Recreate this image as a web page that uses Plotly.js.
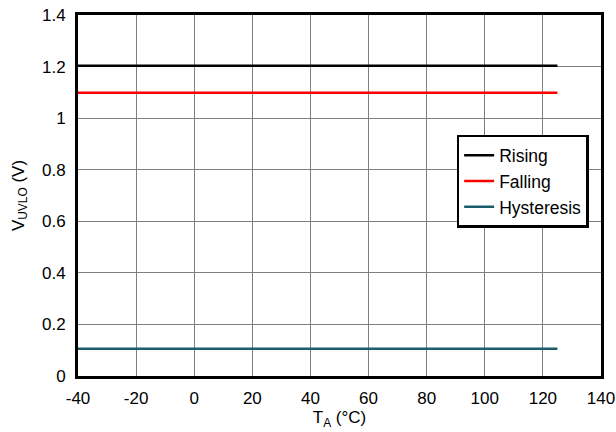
<!DOCTYPE html>
<html><head><meta charset="utf-8">
<script src="https://cdn.plot.ly/plotly-3.0.1.min.js"></script>
<style>body{margin:0;background:#fff}#c{width:616px;height:432px}</style>
</head><body><div id="c"></div>
<script>
const temps = [-40, -20, 0, 20, 40, 60, 80, 100, 125];
const rising = [1.203, 1.203, 1.203, 1.203, 1.203, 1.203, 1.203, 1.203, 1.203];
const falling = [1.098, 1.098, 1.097, 1.097, 1.097, 1.097, 1.097, 1.098, 1.098];
const hysteresis = [0.106, 0.106, 0.106, 0.106, 0.106, 0.106, 0.106, 0.106, 0.106];
const seriesNames = ['Rising', 'Falling', 'Hysteresis'];
const xTicks = [-40, -20, 0, 20, 40, 60, 80, 100, 120, 140];
const yTicks = [0, 0.2, 0.4, 0.6, 0.8, 1, 1.2, 1.4];

const colors = ['#000000', '#ff0000', '#1b5c6b'];
const data = [rising, falling, hysteresis].map((y, i) => ({
  x: temps, y: y, type: 'scatter', mode: 'lines', name: seriesNames[i],
  line: {color: colors[i], width: 2.5}
}));

const font = {family: 'Liberation Sans, Arial, sans-serif', size: 17, color: '#000'};
const layout = {
  width: 616, height: 432,
  margin: {l: 78, r: 15, t: 15, b: 56},
  paper_bgcolor: '#fff', plot_bgcolor: '#fff',
  font: font,
  showlegend: true,
  legend: {x: 0.724, y: 0.668, xanchor: 'left', yanchor: 'top',
    bgcolor: '#fff', bordercolor: '#000', borderwidth: 2.5,
    font: {family: 'Liberation Sans, Arial, sans-serif', size: 17.5, color: '#000'},
    tracegroupgap: 0, itemwidth: 30},
  xaxis: {range: [-40, 140], tickvals: xTicks, ticktext: xTicks.map(String),
    showgrid: true, gridcolor: '#7f7f7f', gridwidth: 1,
    showline: true, linecolor: '#000', linewidth: 3, mirror: true,
    ticks: '', zeroline: false, tickfont: font, ticklabelstandoff: 5,
    title: {text: 'T<sub>A</sub> (°C)', font: font, standoff: 4}},
  yaxis: {range: [0, 1.4], tickvals: yTicks, ticktext: yTicks.map(String),
    showgrid: true, gridcolor: '#7f7f7f', gridwidth: 1,
    showline: true, linecolor: '#000', linewidth: 3, mirror: true,
    ticks: '', zeroline: false, tickfont: font, ticklabelstandoff: 6,
    title: {text: 'V<sub>UVLO</sub> (V)', font: font, standoff: 14}}
};
Plotly.newPlot('c', data, layout, {displayModeBar: false, staticPlot: true});
</script></body></html>
